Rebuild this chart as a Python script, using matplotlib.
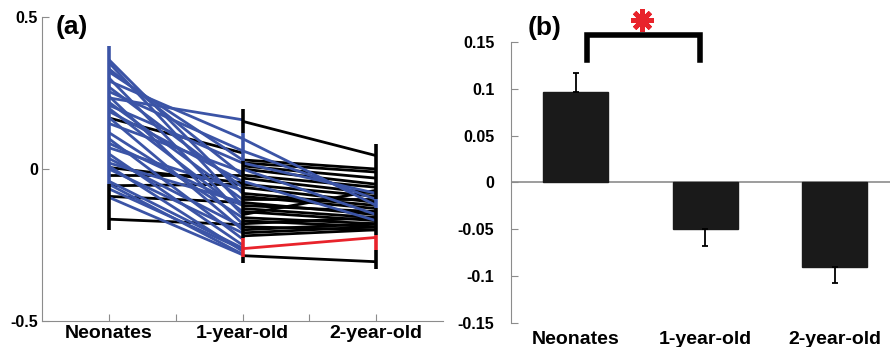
import numpy as np
import matplotlib.pyplot as plt

plt.rcParams['font.family'] = ['Liberation Sans', 'DejaVu Sans']
plt.rcParams['font.weight'] = 'bold'
plt.rcParams['axes.unicode_minus'] = False

BLUE = "#3b54a6"
RED = "#e8232b"
GREY = "#8c8c8c"

groups = ["Neonates", "1-year-old", "2-year-old"]

# --- panel (a): individual trajectories (start value, end value) ---
neo_1y_blue = [(0.36, -0.08), (0.35, -0.12), (0.33, -0.02), (0.32, 0.03), (0.30, -0.15),
               (0.29, 0.10), (0.27, -0.06), (0.255, 0.06), (0.24, -0.18), (0.234, 0.162),
               (0.22, -0.10), (0.21, 0.02), (0.20, -0.14), (0.19, -0.04), (0.17, -0.20),
               (0.15, -0.01), (0.12, -0.16), (0.10, -0.23), (0.085, -0.12), (0.07, -0.07),
               (0.05, -0.25), (0.035, -0.19), (0.02, -0.11), (0.01, -0.27), (0.0, -0.21),
               (-0.04, -0.26), (-0.05, -0.28), (-0.065, -0.264), (-0.093, -0.282)]
neo_1y_black = [(0.168, 0.053), (0.005, -0.045), (-0.02, -0.02), (-0.055, -0.05),
                (-0.09, -0.11), (-0.165, -0.183)]
y1_2y_blue = [(0.10, -0.12), (0.06, -0.10), (0.02, -0.08), (0.0, -0.15), (-0.04, -0.17)]
y1_2y_black = [(0.157, 0.044), (0.03, 0.0), (0.02, -0.01), (0.01, -0.03), (0.0, -0.05),
               (-0.02, -0.06), (-0.03, -0.08), (-0.05, -0.09), (-0.06, -0.11), (-0.08, -0.12),
               (-0.09, -0.13), (-0.10, -0.10), (-0.11, -0.15), (-0.12, -0.14), (-0.13, -0.16),
               (-0.14, -0.17), (-0.15, -0.07), (-0.16, -0.18), (-0.17, -0.19), (-0.18, -0.16),
               (-0.19, -0.20), (-0.20, -0.18), (-0.21, -0.19), (-0.22, -0.20), (-0.285, -0.305)]
y1_2y_red = [(-0.262, -0.225)]

# vertical spans at each age: (group index, top, bottom, colour)
spans = [(1, 0.405, -0.05, BLUE), (1, -0.05, -0.20, "black"),
         (2, 0.198, 0.118, "black"), (2, 0.118, 0.025, BLUE), (2, 0.025, -0.227, "black"),
         (2, -0.227, -0.288, RED), (2, -0.288, -0.31, "black"),
         (3, 0.082, -0.10, "black"), (3, -0.10, -0.128, BLUE), (3, -0.128, -0.216, "black"),
         (3, -0.216, -0.266, RED), (3, -0.266, -0.33, "black")]

# --- panel (b): group means ---
means = [0.097, -0.0495, -0.0897]
errs = [0.0196, 0.0185, 0.0173]

fig = plt.figure(figsize=(8.9, 3.47), dpi=100)

ax = fig.add_axes([0.0472, 0.0749, 0.4506, 0.876])
lw = 2.0
for segs, x0, col in [(neo_1y_black, 1, "black"), (y1_2y_black, 2, "black"),
                      (neo_1y_blue, 1, BLUE), (y1_2y_blue, 2, BLUE), (y1_2y_red, 2, RED)]:
    for a, b in segs:
        ax.plot([x0, x0 + 1], [a, b], color=col, lw=lw, solid_capstyle="butt")
for g, top, bot, col in spans:
    ax.plot([g, g], [top, bot], color=col, lw=2.6, solid_capstyle="butt")

ax.set_xlim(0.5, 3.5)
ax.set_ylim(-0.5, 0.5)
ax.set_xticks([1, 1.5, 2, 2.5, 3])
ax.set_xticklabels([groups[0], "", groups[1], "", groups[2]], fontsize=14, fontweight="bold")
ax.set_yticks([-0.5, 0, 0.5])
ax.set_yticklabels(["-0.5", "0", "0.5"], fontsize=11.5, fontweight="bold")
ax.tick_params(direction="in", length=5, color=GREY, pad=3)
for s in ["top", "right"]:
    ax.spines[s].set_visible(False)
for s in ["left", "bottom"]:
    ax.spines[s].set_color(GREY)
fig.text(0.0803, 0.921, "(a)", fontsize=19, fontweight="bold", ha="center", va="center")

bx = fig.add_axes([0.5742, 0.0692, 0.4258, 0.8098])
xs = np.arange(1, 4)
bx.bar(xs, means, width=0.5, color="#1a1a1a", edgecolor="#1a1a1a", zorder=2)
for x, m, e in zip(xs, means, errs):
    sign = 1 if m > 0 else -1
    bx.errorbar(x, m, yerr=[[0], [e]] if sign > 0 else [[e], [0]], color="black",
                lw=1.3, capsize=2.5, capthick=1.3, zorder=3)
bx.axhline(0, color=GREY, lw=1.2, zorder=1)
bx.set_xlim(0.5, 3.426)
bx.set_ylim(-0.15, 0.15)
bx.set_yticks([-0.15, -0.1, -0.05, 0, 0.05, 0.1, 0.15])
bx.set_yticklabels(["-0.15", "-0.1", "-0.05", "0", "0.05", "0.1", "0.15"],
                   fontsize=11.5, fontweight="bold")
bx.set_xticks(xs)
bx.set_xticklabels(groups, fontsize=14, fontweight="bold")
bx.tick_params(axis="y", direction="in", length=5, color=GREY, pad=12)
bx.tick_params(axis="x", length=0, pad=6)
for s in ["top", "right", "bottom"]:
    bx.spines[s].set_visible(False)
bx.spines["left"].set_color(GREY)

# significance bracket
bx.plot([1.09, 1.09, 1.96, 1.96], [0.131, 0.1575, 0.1575, 0.131], color="black",
        lw=4, clip_on=False, solid_joinstyle="miter")
bx.plot([1.51], [0.173], marker=(8, 2, 0), color=RED, ms=16, mew=3.4, clip_on=False)
fig.text(0.6124, 0.919, "(b)", fontsize=19, fontweight="bold", ha="center", va="center")

fig.savefig("out.png", dpi=100)
